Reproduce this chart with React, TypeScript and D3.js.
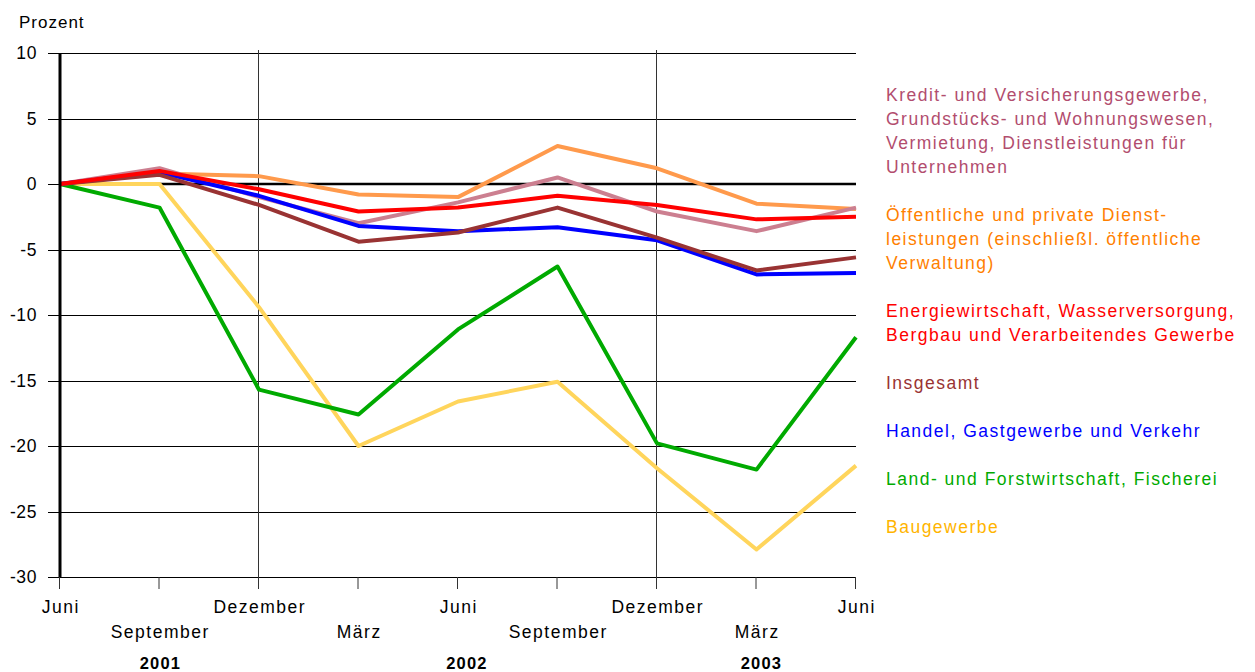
import * as React from "react";
import { line, scaleLinear, scalePoint } from "d3";

const months = ["Juni", "September", "Dezember", "März", "Juni", "September", "Dezember", "März", "Juni"];
const quarters = ["2001-06", "2001-09", "2001-12", "2002-03", "2002-06", "2002-09", "2002-12", "2003-03", "2003-06"];
const years = [
  { label: "2001", at: "2001-09", dx: 1 },
  { label: "2002", at: "2002-06", dx: 9 },
  { label: "2003", at: "2003-03", dx: 5 },
];
const yTicks = [10, 5, 0, -5, -10, -15, -20, -25, -30];

const kredit = [0, 1.2, -1.0, -3.0, -1.4, 0.5, -2.1, -3.6, -1.8];
const oeffentlich = [0, 0.8, 0.6, -0.8, -1.0, 2.9, 1.2, -1.5, -1.9];
const energie = [0, 1.0, -0.4, -2.1, -1.8, -0.9, -1.6, -2.7, -2.5];
const insgesamt = [0, 0.7, -1.6, -4.4, -3.7, -1.8, -4.1, -6.6, -5.6];
const handel = [0, 0.9, -0.9, -3.2, -3.6, -3.3, -4.3, -6.9, -6.8];
const land = [0, -1.8, -15.7, -17.6, -11.1, -6.3, -19.8, -21.8, -11.7];
const bau = [0, 0, -9.4, -20.0, -16.6, -15.1, -21.7, -27.9, -21.5];

interface Series {
  name: string[];
  values: number[];
  stroke: string;
  text: string;
}

// legend order (top to bottom)
const series: Series[] = [
  {
    name: [
      "Kredit- und Versicherungsgewerbe,",
      "Grundstücks- und Wohnungswesen,",
      "Vermietung, Dienstleistungen für",
      "Unternehmen",
    ],
    values: kredit,
    stroke: "#cc7f90",
    text: "#b24d6e",
  },
  {
    name: ["Öffentliche und private Dienst-", "leistungen (einschließl. öffentliche", "Verwaltung)"],
    values: oeffentlich,
    stroke: "#ff9a4c",
    text: "#ff8000",
  },
  {
    name: ["Energiewirtschaft, Wasserversorgung,", "Bergbau und Verarbeitendes Gewerbe"],
    values: energie,
    stroke: "#ff0000",
    text: "#ff0000",
  },
  { name: ["Insgesamt"], values: insgesamt, stroke: "#993333", text: "#993333" },
  { name: ["Handel, Gastgewerbe und Verkehr"], values: handel, stroke: "#0000ff", text: "#0000ff" },
  { name: ["Land- und Forstwirtschaft, Fischerei"], values: land, stroke: "#00aa00", text: "#00aa00" },
  { name: ["Baugewerbe"], values: bau, stroke: "#ffd55c", text: "#ffb400" },
];

// paint order of the lines, bottom first
const drawOrder = [6, 5, 1, 0, 4, 3, 2];

const font = "'Liberation Sans', Arial, sans-serif";
const spacing = 1.5;

export default function App() {
  const width = 1255;
  const height = 672;
  const x = scalePoint<string>().domain(quarters).range([60, 856]);
  const y = scaleLinear().domain([-30, 10]).range([577, 53]);

  const path = line<number>()
    .x((_, i) => x(quarters[i]) as number)
    .y((d) => y(d));

  const legendLine = 24;
  let legendY = 95;
  const legendItems = series.map((s) => {
    const top = legendY;
    legendY += s.name.length * legendLine + legendLine;
    return { s, top };
  });

  const decembers = quarters.filter((q) => q.endsWith("-12"));

  return (
    <svg
      width={width}
      height={height}
      style={{ position: "absolute", left: 0, top: 0, background: "#fff" }}
      fontFamily={font}
    >
      <text x={19} y={28} fontSize={17} letterSpacing={1} fill="#000">
        Prozent
      </text>

      {/* horizontal grid */}
      {yTicks.map((t) => (
        <g key={`gy-${t}`}>
          <line
            x1={48}
            x2={856}
            y1={Math.round(y(t)) + 0.5}
            y2={Math.round(y(t)) + 0.5}
            stroke="#000"
            strokeWidth={1}
          />
          <text x={37} y={y(t) + 6} fontSize={17.5} letterSpacing={0.6} textAnchor="end" fill="#000">
            {t}
          </text>
        </g>
      ))}

      {/* december separators */}
      {decembers.map((q) => (
        <line
          key={`dez-${q}`}
          x1={(x(q) as number) - 0.5}
          x2={(x(q) as number) - 0.5}
          y1={50}
          y2={589}
          stroke="#333"
          strokeWidth={1}
        />
      ))}

      {/* x ticks */}
      {quarters.map((q) => (
        <line
          key={`tx-${q}`}
          x1={(x(q) as number) - 0.5}
          x2={(x(q) as number) - 0.5}
          y1={577}
          y2={589}
          stroke="#333"
          strokeWidth={1}
        />
      ))}

      {/* zero line */}
      <line x1={60} x2={856} y1={y(0)} y2={y(0)} stroke="#000" strokeWidth={2.5} />

      {/* series */}
      {drawOrder.map((i) => (
        <path
          key={`s-${i}`}
          d={path(series[i].values) || ""}
          fill="none"
          stroke={series[i].stroke}
          strokeWidth={4}
          strokeLinejoin="round"
        />
      ))}

      {/* left axis */}
      <line x1={60} x2={60} y1={53} y2={577} stroke="#000" strokeWidth={3} />

      {/* x labels */}
      {quarters.map((q, i) => (
        <text
          key={`lx-${q}`}
          x={(x(q) as number) + spacing / 2}
          y={i % 2 === 0 ? 613 : 638}
          fontSize={17.5}
          letterSpacing={spacing}
          textAnchor="middle"
          fill="#000"
        >
          {months[i]}
        </text>
      ))}
      {years.map((yr) => (
        <text
          key={`yr-${yr.label}`}
          x={(x(yr.at) as number) + yr.dx}
          y={669}
          fontSize={16.5}
          fontWeight="bold"
          letterSpacing={1.2}
          textAnchor="middle"
          fill="#000"
        >
          {yr.label}
        </text>
      ))}

      {/* legend */}
      {legendItems.map(({ s, top }) =>
        s.name.map((ln, j) => (
          <text
            key={`lg-${ln}`}
            x={886}
            y={top + j * legendLine + 6}
            fontSize={17.5}
            letterSpacing={spacing}
            fill={s.text}
          >
            {ln}
          </text>
        ))
      )}
    </svg>
  );
}
